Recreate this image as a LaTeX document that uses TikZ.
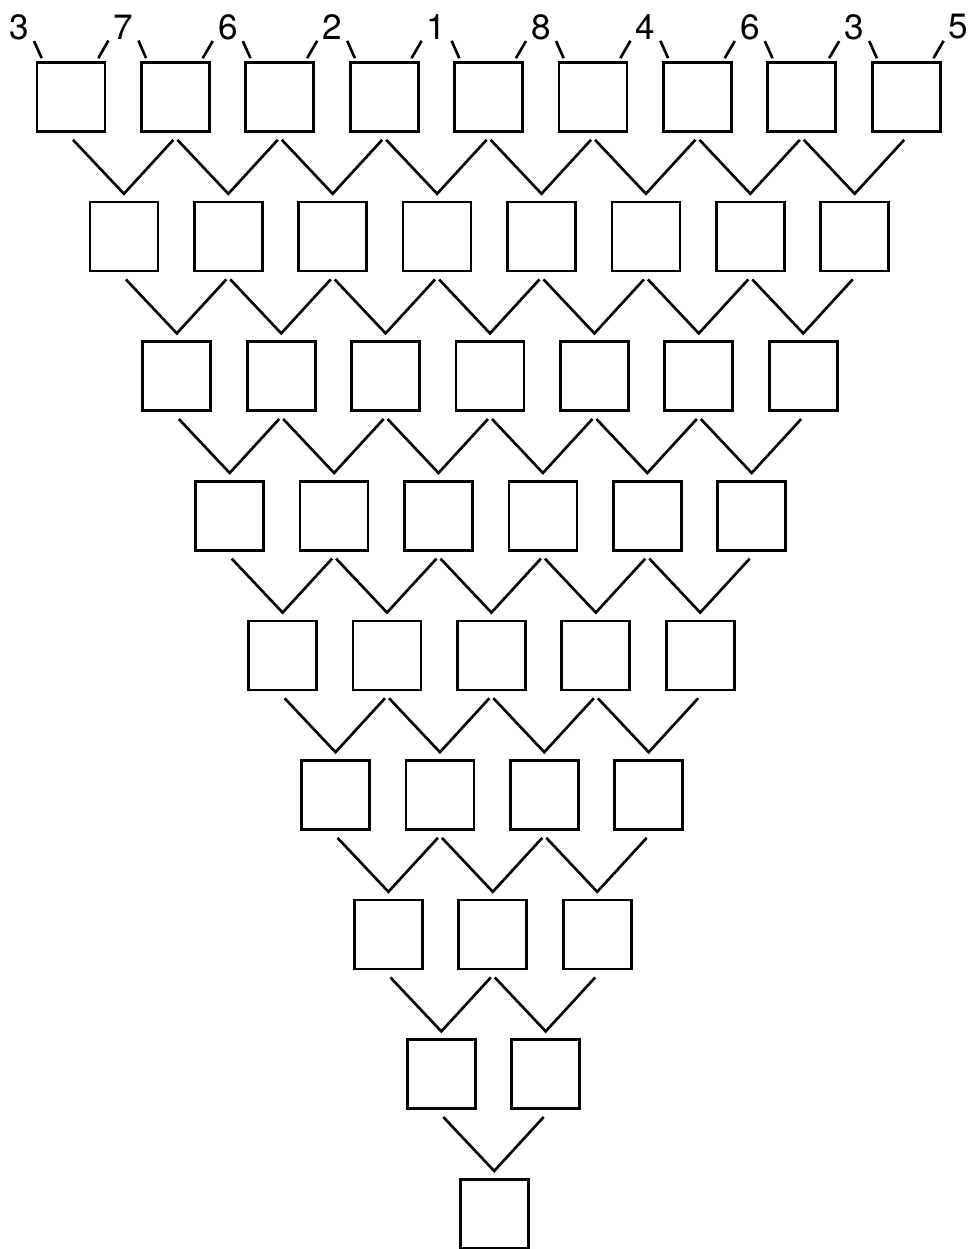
\documentclass[tikz,border=0pt]{standalone}
\usepackage{fontspec}
\setmainfont{TeX Gyre Heros}
\usepackage{tikz}
\usetikzlibrary{calc}
\tikzset{
  cell/.style={draw,minimum width=13.6mm,minimum height=13.8mm,inner sep=0pt,
               line width=1.5pt},
  num/.style={inner sep=0pt,font=\fontsize{20}{24}\selectfont},
  link/.style={-,line width=1.5pt},
}

\begin{document}
\begin{tikzpicture}[x=0.2mm,y=-0.2mm]
  \useasboundingbox (0,0) rectangle (973,1249);

  % rows of boxes, one fewer per row
  \foreach \r in {0,...,8}{
    \pgfmathtruncatemacro\n{8-\r}
    \foreach \j in {0,...,\n}{
      \node[cell] (b\r-\j) at ({71+104.4*(\j+\r/2)+0.7*\r},{97+139.6*\r}) {};
    }
  }

  % numbers on top
  \foreach \v [count=\k from 0] in {3,7,6,2,1,8,4,6,3,5}
    \node[num] (l\k) at ({19+104.4*\k},27) {\v};
  \foreach \j in {0,...,8}{
    \pgfmathtruncatemacro\jp{\j+1}
    \draw[link] ($(l\j.south)+(15,1)$) -- ($(b0-\j.north west)+(6,-3)$);
    \draw[link] ($(l\jp.south)+(-15,1)$) -- ($(b0-\j.north east)+(-8,-3)$);
  }

  % V connectors between rows
  \foreach \r in {1,...,8}{
    \pgfmathtruncatemacro\rm{\r-1}
    \pgfmathtruncatemacro\n{8-\r}
    \foreach \j in {0,...,\n}{
      \pgfmathtruncatemacro\jp{\j+1}
      \coordinate (v\r-\j) at ($(b\r-\j.north)+(0,-7)$);
      \draw[link] ($(b\rm-\j.south)+(2,7)$) -- (v\r-\j)
                  -- ($(b\rm-\jp.south)+(-2,7)$);
    }
  }
\end{tikzpicture}
\end{document}
